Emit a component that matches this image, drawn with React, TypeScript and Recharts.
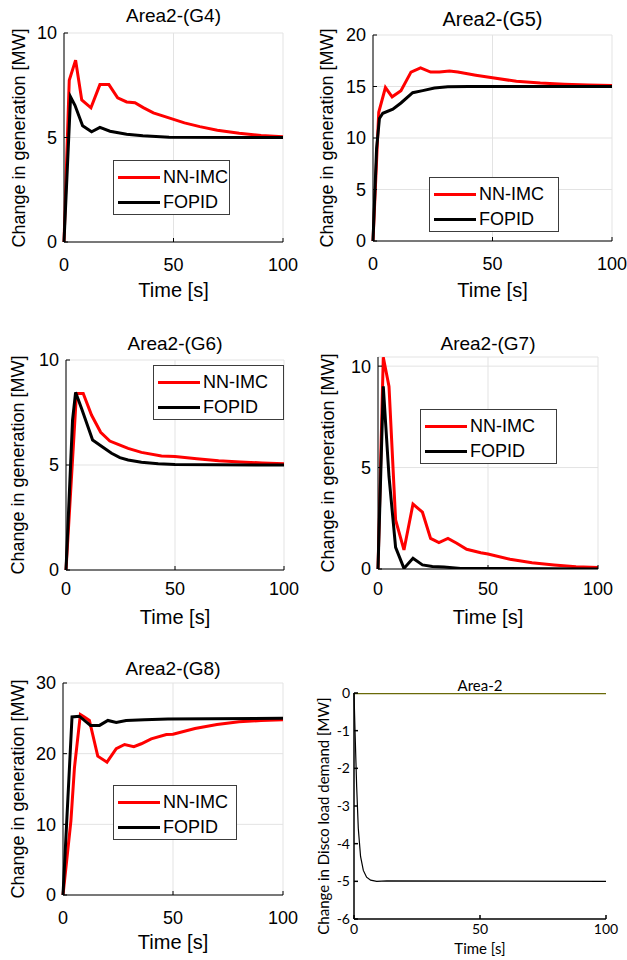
import { LineChart, Line, XAxis, YAxis, CartesianGrid } from 'recharts'

// ---- data (time in s, value in MW) ----
const X_TICKS = [0, 50, 100]

const G4_NN_T = [0, 2.4, 5.3, 8.1, 12.3, 16.4, 20.5, 24.5, 28.6, 32.4, 36.2, 40.8, 47.2, 55, 62, 70, 80, 90, 100]
const G4_NN_V = [0, 7.74, 8.7, 6.8, 6.42, 7.53, 7.53, 6.9, 6.7, 6.66, 6.43, 6.18, 5.96, 5.7, 5.52, 5.35, 5.2, 5.1, 5.04]
const G4_FO_T = [0, 3.0, 5.0, 8.5, 12.6, 16.4, 21, 28.6, 36, 48, 100]
const G4_FO_V = [0, 6.94, 6.54, 5.56, 5.27, 5.48, 5.3, 5.16, 5.08, 5.01, 5.0]

const G5_NN_T = [0, 2.4, 5.2, 8.0, 11.7, 15.9, 19.9, 24.1, 27.8, 32, 35.5, 43, 50, 60, 70, 80, 90, 100]
const G5_NN_V = [0, 12.5, 14.9, 14.0, 14.6, 16.4, 16.8, 16.4, 16.4, 16.5, 16.4, 16.1, 15.85, 15.5, 15.33, 15.23, 15.15, 15.1]
const G5_FO_T = [0, 1.5, 2.7, 4.1, 8.3, 11.7, 16.6, 20.8, 25.7, 31.3, 40, 100]
const G5_FO_V = [0, 9.0, 11.9, 12.4, 12.8, 13.4, 14.4, 14.6, 14.85, 14.97, 15.0, 15.0]

const G6_NN_T = [0, 4.8, 7.9, 11.7, 15.9, 20.1, 23.9, 28.5, 34.6, 43.8, 50, 60, 70, 80, 90, 100]
const G6_NN_V = [0, 8.41, 8.41, 7.38, 6.56, 6.14, 5.98, 5.79, 5.6, 5.43, 5.4, 5.3, 5.2, 5.14, 5.1, 5.06]
const G6_FO_T = [0, 3, 4.4, 7.1, 12.2, 17.1, 20.9, 24.7, 28.5, 34.6, 42.3, 50, 100]
const G6_FO_V = [0, 7.14, 8.46, 7.7, 6.19, 5.83, 5.56, 5.35, 5.24, 5.13, 5.06, 5.02, 5.0]

const G7_NN_T = [0, 2.4, 5, 8, 11.8, 15.9, 20.2, 23.9, 27.7, 31.8, 35.8, 40.3, 46.7, 50, 60, 70, 80, 90, 100]
const G7_NN_V = [0, 10.44, 9.0, 2.42, 0.94, 3.2, 2.8, 1.51, 1.3, 1.51, 1.27, 0.97, 0.8, 0.74, 0.48, 0.31, 0.2, 0.11, 0.07]
const G7_FO_T = [0, 2.4, 5, 8, 11.8, 15.9, 20.2, 24.7, 30, 37.6, 100]
const G7_FO_V = [0, 9.0, 4.56, 1.07, 0.03, 0.53, 0.2, 0.12, 0.1, 0.03, 0.0]

const G8_NN_T = [0, 3.6, 5.2, 7.9, 9.7, 12, 15.8, 20, 24.2, 28, 32.2, 35.6, 40.1, 47, 50, 60, 70, 80, 90, 100]
const G8_NN_V = [0, 10.5, 18, 25.55, 25.2, 24.7, 19.65, 18.8, 20.7, 21.3, 21.0, 21.4, 22.1, 22.7, 22.76, 23.57, 24.14, 24.5, 24.7, 24.8]
const G8_FO_T = [0, 4.1, 7.4, 12.5, 16.6, 20.4, 24.2, 28.7, 37, 47.7, 100]
const G8_FO_V = [0, 25.2, 25.3, 24.0, 24.0, 24.7, 24.4, 24.7, 24.8, 24.9, 25.0]

const LOAD_T = [0, 0.4, 1.06, 1.7, 2.6, 3.7, 5.0, 6.6, 9, 13, 100]
const LOAD_V = [0, -0.99, -2.49, -3.59, -4.34, -4.71, -4.89, -4.97, -5.0, -4.99, -5.0]
const REF_T = [0, 100]
const REF_V = [0, 0]

const RED = '#ff0000'
const BLACK = '#000000'
const OLIVE = '#6a6a08'
const ARIAL = "'Liberation Sans', Arial, Helvetica, sans-serif"
const CALIBRI = "Lato, 'Open Sans', sans-serif"

type Pt = { t: number; v: number }
const zip = (t: number[], v: number[]): Pt[] => t.map((x, i) => ({ t: x, v: v[i] }))

type Series = { name: string; data: Pt[]; color: string; width: number }

type PlotProps = {
  box: [number, number, number, number] // plot area left, top, right, bottom
  yDomain: [number, number]
  yTicks: number[]
  series: Series[]
  grid: boolean
  font: string
  tickFont: number
  axisWidth: number
  yGap: number
  xGap: number
  topColor?: string
}

const PAD_L = 70
const PAD_T = 10
const PAD_R = 30
const PAD_B = 40

function Plot({ box, yDomain, yTicks, series, grid, font, tickFont, axisWidth, yGap, xGap, topColor }: PlotProps) {
  const [l, t, r, b] = box
  const w = r - l + PAD_L + PAD_R
  const h = b - t + PAD_T + PAD_B
  const tickStyle = { fill: '#000', fontSize: tickFont, fontFamily: font }
  const line = { stroke: '#000', strokeWidth: axisWidth }
  const topLine = topColor ? { stroke: topColor, strokeWidth: 2.5 } : line
  return (
    <div style={{ position: 'absolute', left: l - PAD_L, top: t - PAD_T }}>
      <LineChart width={w} height={h} margin={{ top: PAD_T, right: PAD_R, bottom: 0, left: 0 }}>
        {grid && <CartesianGrid xAxisId="b" yAxisId="l" stroke="#e3e3e3" strokeWidth={1} />}
        <XAxis
          xAxisId="b"
          dataKey="t"
          type="number"
          domain={[0, 100]}
          ticks={X_TICKS}
          interval={0}
          height={PAD_B}
          tick={tickStyle}
          tickSize={-4}
          tickMargin={xGap}
          axisLine={line}
          tickLine={line}
        />
        <XAxis
          xAxisId="t"
          orientation="top"
          dataKey="t"
          type="number"
          domain={[0, 100]}
          ticks={X_TICKS}
          interval={0}
          height={0}
          tick={false}
          tickSize={-4}
          axisLine={topLine}
          tickLine={line}
        />
        <YAxis
          yAxisId="l"
          type="number"
          domain={yDomain}
          ticks={yTicks}
          interval={0}
          allowDataOverflow
          width={PAD_L}
          tick={tickStyle}
          tickSize={-4}
          tickMargin={yGap}
          axisLine={line}
          tickLine={line}
        />
        <YAxis
          yAxisId="r"
          orientation="right"
          type="number"
          domain={yDomain}
          ticks={yTicks}
          interval={0}
          allowDataOverflow
          width={0}
          tick={false}
          tickSize={-4}
          axisLine={line}
          tickLine={line}
        />
        {series.map((s) => (
          <Line
            key={s.name}
            name={s.name}
            xAxisId="b"
            yAxisId="l"
            data={s.data}
            dataKey="v"
            type="linear"
            stroke={s.color}
            strokeWidth={s.width}
            dot={false}
            activeDot={false}
            isAnimationActive={false}
          />
        ))}
      </LineChart>
    </div>
  )
}

type TextProps = { x: number; y: number; size: number; font: string; text: string; rotate?: boolean }

function Txt({ x, y, size, font, text, rotate }: TextProps) {
  return (
    <div
      style={{
        position: 'absolute',
        left: x,
        top: y,
        transform: `translate(-50%, -50%)${rotate ? ' rotate(-90deg)' : ''}`,
        fontFamily: font,
        fontSize: size,
        lineHeight: 1,
        whiteSpace: 'nowrap',
        color: '#000',
      }}
    >
      {text}
    </div>
  )
}

function LegendBox({ x, y, w, items }: { x: number; y: number; w: number; items: Series[] }) {
  return (
    <div
      style={{
        position: 'absolute',
        left: x,
        top: y,
        width: w,
        height: 55,
        boxSizing: 'border-box',
        border: '1px solid #3c3c3c',
        background: '#fff',
      }}
    >
      {items.map((s, i) => (
        <div key={s.name} style={{ position: 'absolute', left: 0, top: 16 + i * 25, width: '100%' }}>
          <div style={{ position: 'absolute', left: 4, top: -1.5, width: 42, height: 3, background: s.color }} />
          <div
            style={{
              position: 'absolute',
              left: 49,
              top: -10,
              fontFamily: ARIAL,
              fontSize: 18,
              lineHeight: '20px',
              whiteSpace: 'nowrap',
            }}
          >
            {s.name}
          </div>
        </div>
      ))}
    </div>
  )
}

const pair = (nn: Pt[], fo: Pt[]): Series[] => [
  { name: 'NN-IMC', data: nn, color: RED, width: 3 },
  { name: 'FOPID', data: fo, color: BLACK, width: 3 },
]

type GenPanel = {
  title: string
  box: [number, number, number, number]
  yDomain: [number, number]
  yTicks: number[]
  series: Series[]
  titleY: number
  titleSize: number
  yLabelX: number
  tickY: number
  xLabelY: number
  legend: [number, number, number]
}

const PANELS: GenPanel[] = [
  {
    title: 'Area2-(G4)',
    box: [64, 33, 283, 242],
    yDomain: [0, 10],
    yTicks: [0, 5, 10],
    series: pair(zip(G4_NN_T, G4_NN_V), zip(G4_FO_T, G4_FO_V)),
    titleY: 15,
    titleSize: 19,
    yLabelX: 19,
    tickY: 264,
    xLabelY: 290,
    legend: [113, 160, 117],
  },
  {
    title: 'Area2-(G5)',
    box: [373, 35, 612, 241],
    yDomain: [0, 20],
    yTicks: [0, 5, 10, 15, 20],
    series: pair(zip(G5_NN_T, G5_NN_V), zip(G5_FO_T, G5_FO_V)),
    titleY: 19,
    titleSize: 20,
    yLabelX: 327,
    tickY: 263,
    xLabelY: 290,
    legend: [429, 177, 130],
  },
  {
    title: 'Area2-(G6)',
    box: [66, 360, 284, 570],
    yDomain: [0, 10],
    yTicks: [0, 5, 10],
    series: pair(zip(G6_NN_T, G6_NN_V), zip(G6_FO_T, G6_FO_V)),
    titleY: 343,
    titleSize: 19,
    yLabelX: 18,
    tickY: 588,
    xLabelY: 617,
    legend: [153, 365, 131],
  },
  {
    title: 'Area2-(G7)',
    box: [378, 357, 598, 569],
    yDomain: [0, 10.45],
    yTicks: [0, 5, 10],
    series: pair(zip(G7_NN_T, G7_NN_V), zip(G7_FO_T, G7_FO_V)),
    titleY: 343,
    titleSize: 19,
    yLabelX: 328,
    tickY: 588,
    xLabelY: 617,
    legend: [420, 409, 137],
  },
  {
    title: 'Area2-(G8)',
    box: [63, 683, 283, 895],
    yDomain: [0, 30],
    yTicks: [0, 10, 20, 30],
    series: pair(zip(G8_NN_T, G8_NN_V), zip(G8_FO_T, G8_FO_V)),
    titleY: 668,
    titleSize: 19,
    yLabelX: 18,
    tickY: 917,
    xLabelY: 942,
    legend: [113, 785, 124],
  },
]

const LOAD_BOX: [number, number, number, number] = [354, 693, 606, 919]

export default function App() {
  return (
    <div style={{ position: 'absolute', left: 0, top: 0, width: 627, height: 960, background: '#fff', overflow: 'hidden' }}>
      {PANELS.map((p) => {
        const cx = (p.box[0] + p.box[2]) / 2
        const cy = (p.box[1] + p.box[3]) / 2
        return (
          <div key={p.title}>
            <Plot
              box={p.box}
              yDomain={p.yDomain}
              yTicks={p.yTicks}
              series={p.series}
              grid
              font={ARIAL}
              tickFont={18}
              axisWidth={1}
              yGap={11}
              xGap={p.tickY - p.box[3] - 2}
            />
            <Txt x={cx} y={p.titleY} size={p.titleSize} font={ARIAL} text={p.title} />
            <Txt x={p.yLabelX} y={cy} size={18} font={ARIAL} text="Change in generation [MW]" rotate />
            <Txt x={cx} y={p.xLabelY} size={20} font={ARIAL} text="Time [s]" />
            <LegendBox x={p.legend[0]} y={p.legend[1]} w={p.legend[2]} items={p.series} />
          </div>
        )
      })}
      <Plot
        box={LOAD_BOX}
        yDomain={[-6, 0]}
        yTicks={[-6, -5, -4, -3, -2, -1, 0]}
        series={[
          { name: 'reference', data: zip(REF_T, REF_V), color: OLIVE, width: 2.5 },
          { name: 'load', data: zip(LOAD_T, LOAD_V), color: BLACK, width: 1.2 },
        ]}
        grid={false}
        font={CALIBRI}
        tickFont={14}
        axisWidth={1.5}
        yGap={8}
        xGap={9}
        topColor={OLIVE}
      />
      <Txt x={480} y={685} size={15} font={CALIBRI} text="Area-2" />
      <Txt x={323} y={816} size={15} font={CALIBRI} text="Change in Disco load demand [MW]" rotate />
      <Txt x={480} y={948} size={15} font={CALIBRI} text="Time [s]" />
    </div>
  )
}
